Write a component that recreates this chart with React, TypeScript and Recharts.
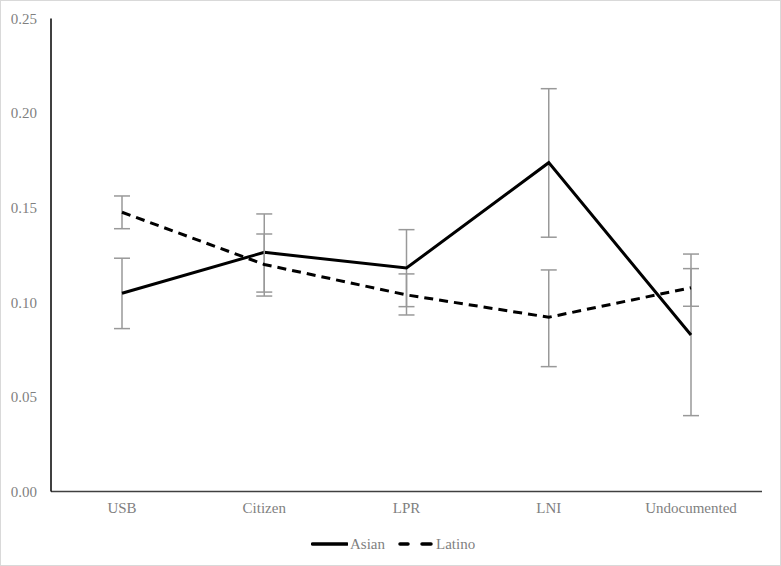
import React from "react";
import { LineChart, Line, XAxis, YAxis, ErrorBar } from "recharts";

const categories = ["USB", "Citizen", "LPR", "LNI", "Undocumented"];
const asianValues = [0.1048, 0.1264, 0.1181, 0.1738, 0.0827];
const asianLow = [0.0861, 0.1033, 0.0977, 0.1344, 0.0401];
const asianHigh = [0.1233, 0.1467, 0.1384, 0.2129, 0.1255];
const latinoValues = [0.1476, 0.1200, 0.1039, 0.0921, 0.1077];
const latinoLow = [0.1389, 0.1054, 0.0933, 0.0660, 0.0979];
const latinoHigh = [0.1562, 0.1361, 0.1150, 0.1171, 0.1178];
const yTicks = [0, 0.05, 0.1, 0.15, 0.2, 0.25];

const data = categories.map((c, i) => ({
  name: c,
  asian: asianValues[i],
  asianErr: [asianValues[i] - asianLow[i], asianHigh[i] - asianValues[i]],
  latino: latinoValues[i],
  latinoErr: [latinoValues[i] - latinoLow[i], latinoHigh[i] - latinoValues[i]],
}));

const FONT = '"Liberation Serif", "Times New Roman", serif';
const GRAY = "#7f7f7f";
const ERR = "#999999";

export default function App() {
  return (
    <div
      style={{
        position: "absolute",
        left: 0,
        top: 0,
        width: 781,
        height: 566,
        background: "#fff",
        boxSizing: "border-box",
        border: "1px solid #d9d9d9",
        fontFamily: FONT,
      }}
    >
      <div style={{ position: "absolute", left: -1, top: -1 }}>
        <LineChart
          width={781}
          height={566}
          data={data}
          margin={{ top: 18.5, right: 19, bottom: 44.5, left: 0 }}
        >
          <XAxis
            dataKey="name"
            height={30}
            padding={{ left: 71, right: 71 }}
            axisLine={{ stroke: "#404040", strokeWidth: 1.5 }}
            tickLine={false}
            tickSize={6}
            tickMargin={5}
            tick={{ fill: GRAY, fontSize: 15, fontFamily: FONT }}
            interval={0}
          />
          <YAxis
            width={51}
            domain={[0, 0.25]}
            ticks={yTicks}
            tickFormatter={(v: number) => v.toFixed(2)}
            axisLine={{ stroke: "#000", strokeWidth: 1.5 }}
            tickLine={false}
            tickSize={6}
            tickMargin={8}
            tick={{ fill: GRAY, fontSize: 15, fontFamily: FONT }}
            interval={0}
          />
          <Line
            dataKey="asian"
            stroke="#000"
            strokeWidth={3}
            dot={false}
            isAnimationActive={false}
          >
            <ErrorBar dataKey="asianErr" stroke={ERR} strokeWidth={1.5} width={8} direction="y" />
          </Line>
          <Line
            dataKey="latino"
            stroke="#000"
            strokeWidth={3}
            strokeDasharray="9 6"
            dot={false}
            isAnimationActive={false}
          >
            <ErrorBar dataKey="latinoErr" stroke={ERR} strokeWidth={1.5} width={8} direction="y" />
          </Line>
        </LineChart>
      </div>
      <div
        style={{
          position: "absolute",
          left: 310,
          top: 533,
          height: 20,
          display: "flex",
          alignItems: "center",
          fontSize: 15,
          color: GRAY,
          fontFamily: FONT,
        }}
      >
        <svg width={37} height={10} style={{ marginRight: 2 }}>
          <line x1={1.5} y1={5} x2={36} y2={5} stroke="#000" strokeWidth={3.5} strokeLinecap="round" />
        </svg>
        <span>Asian</span>
        <svg width={36} height={10} style={{ marginLeft: 13, marginRight: 2 }}>
          <line x1={2} y1={5} x2={10} y2={5} stroke="#000" strokeWidth={3.5} strokeLinecap="round" />
          <line x1={24} y1={5} x2={33} y2={5} stroke="#000" strokeWidth={3.5} strokeLinecap="round" />
        </svg>
        <span>Latino</span>
      </div>
    </div>
  );
}
